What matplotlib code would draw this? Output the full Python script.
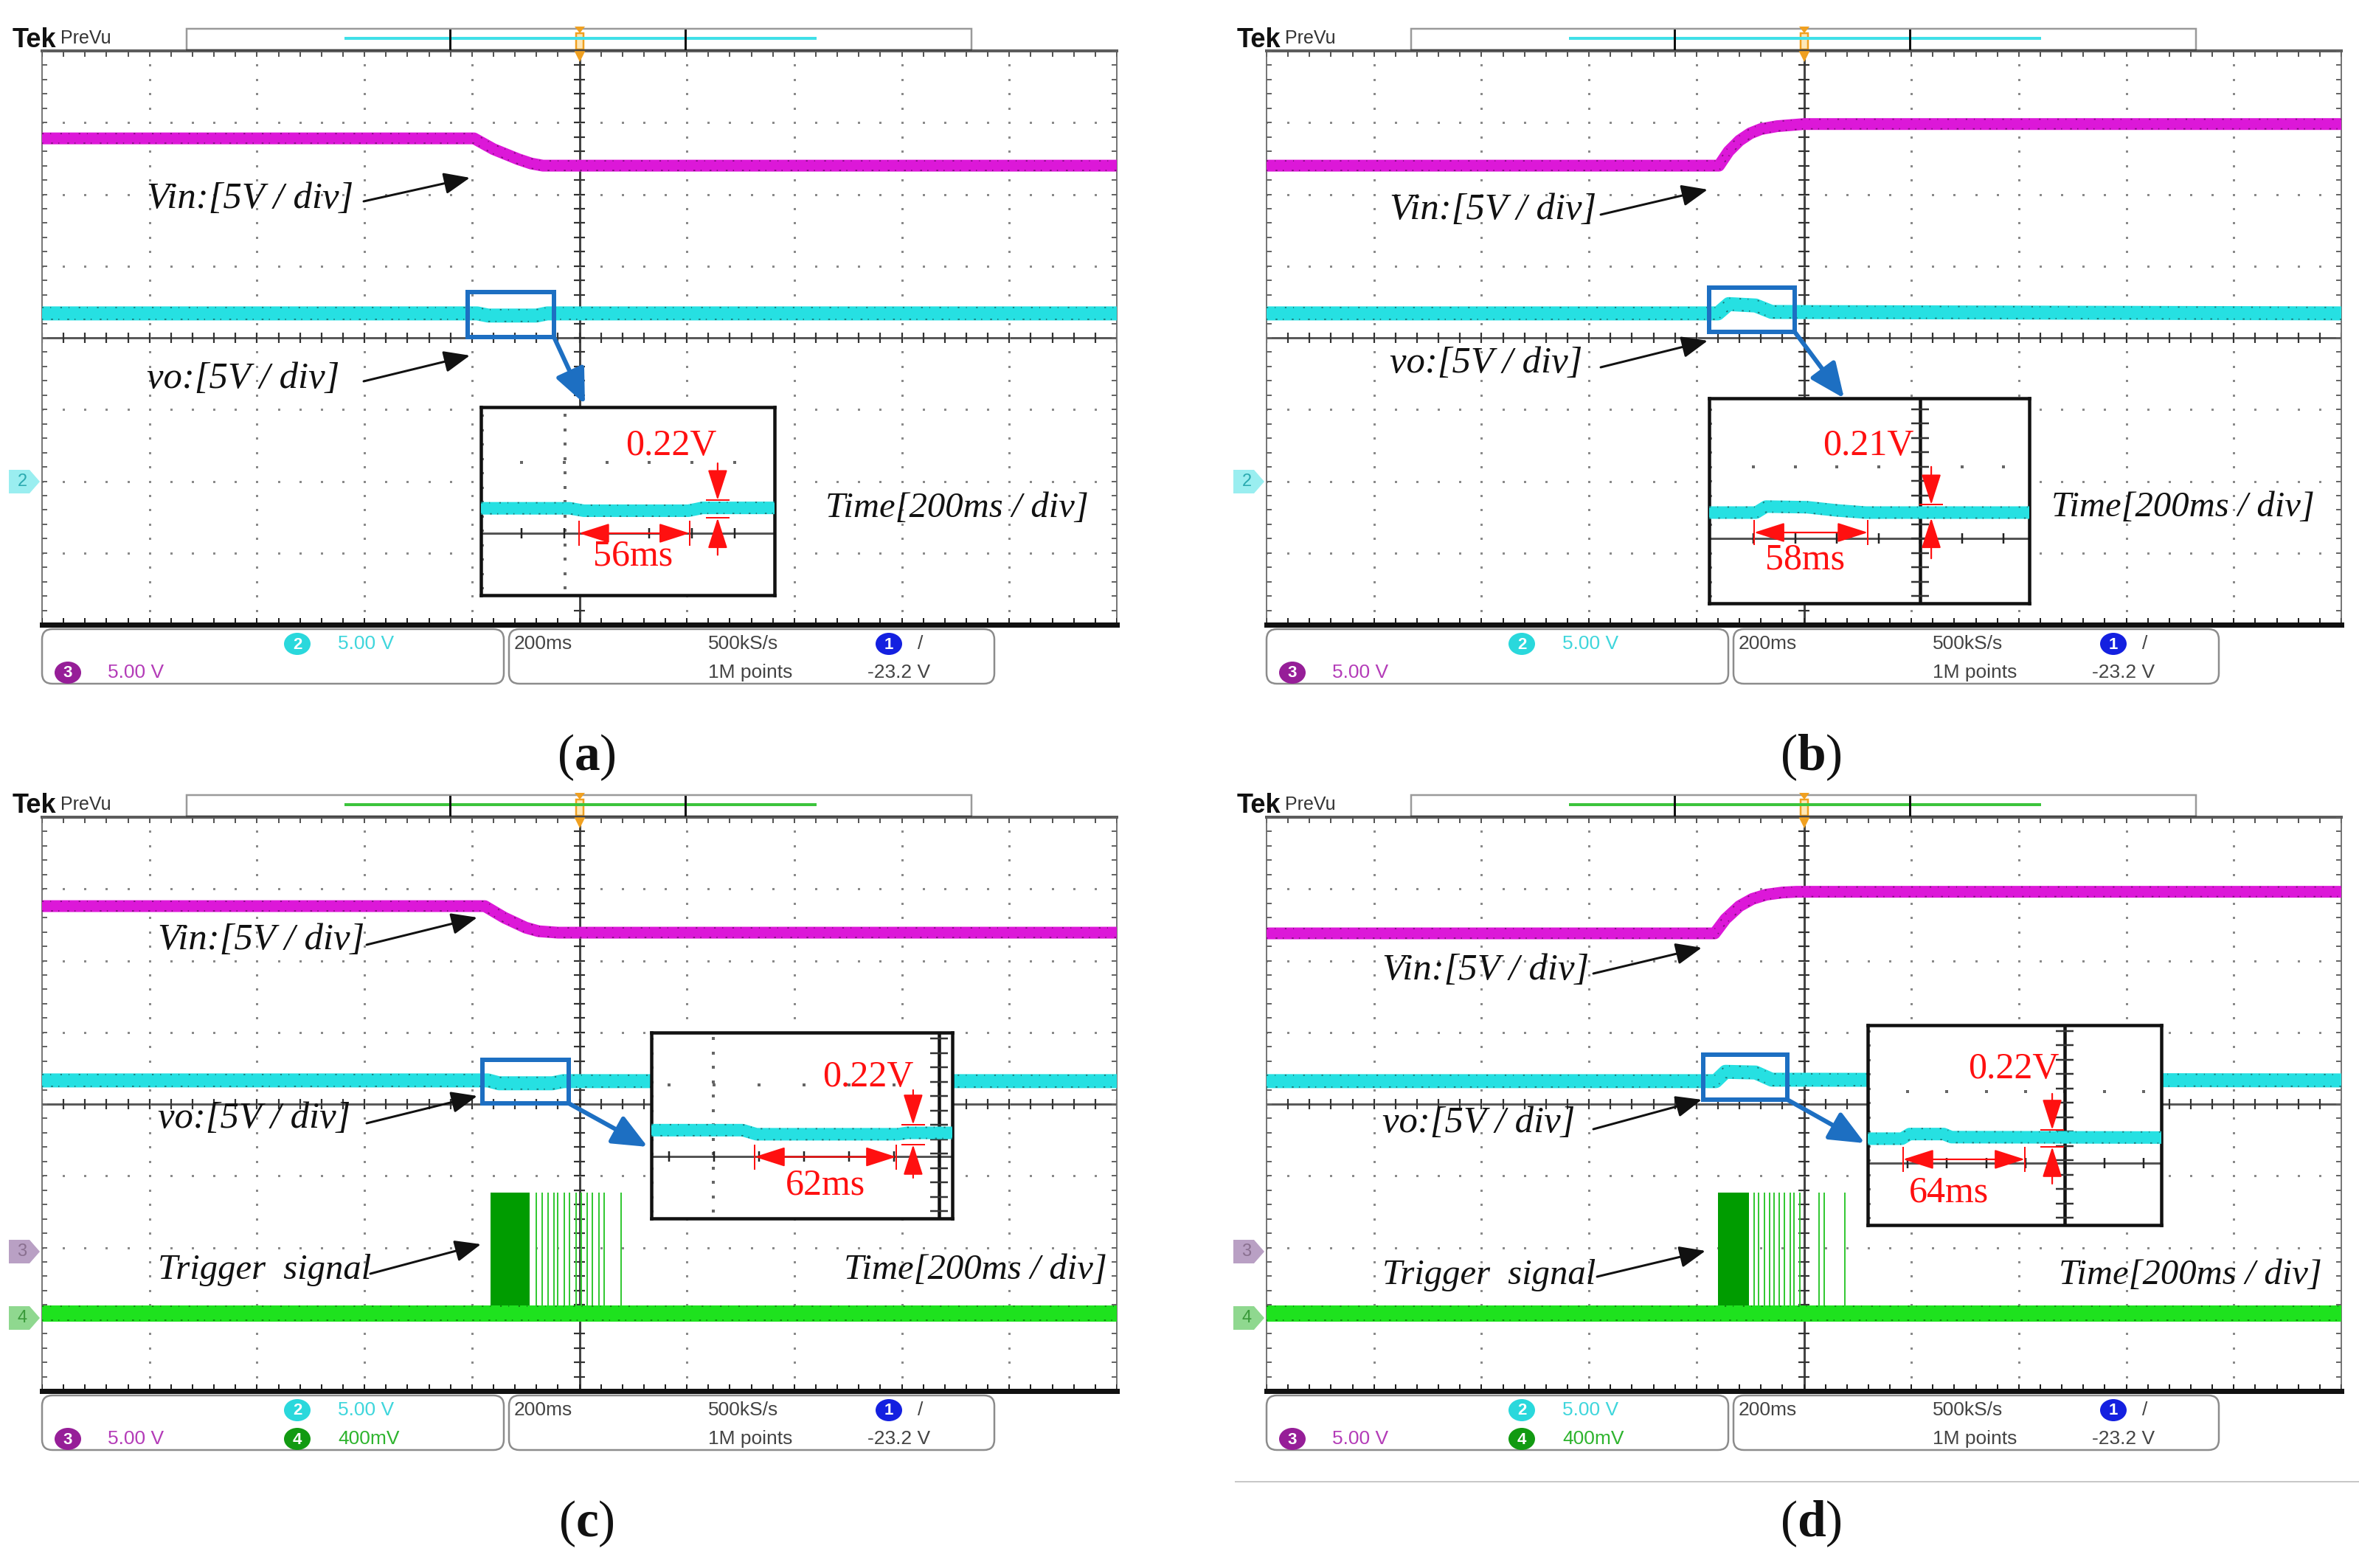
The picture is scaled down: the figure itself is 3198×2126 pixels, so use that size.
import numpy as np
import matplotlib
matplotlib.use("Agg")
import matplotlib.pyplot as plt
from matplotlib.patches import Rectangle, FancyBboxPatch, Polygon, Ellipse

W, H, DPI = 3198, 2126, 100
P = 72.0 / DPI  # points per pixel

plt.rcParams["mathtext.fontset"] = "custom"
plt.rcParams["mathtext.rm"] = "Liberation Serif"
plt.rcParams["mathtext.bf"] = "Liberation Serif:bold"

# ---------------- data (scope divisions: 10 x 8) ----------------
vin_t_a = [0, 4.02, 4.20, 4.43, 4.55, 4.66, 10]
vin_v_a = [6.78, 6.78, 6.63, 6.49, 6.43, 6.40, 6.40]
vo_t_a = [0, 4.05, 4.15, 4.60, 4.70, 10]
vo_v_a = [4.34, 4.34, 4.31, 4.31, 4.34, 4.34]

vin_t_b = [0, 4.21, 4.30, 4.40, 4.50, 4.60, 4.75, 5.00, 10]
vin_v_b = [6.40, 6.40, 6.60, 6.75, 6.85, 6.91, 6.95, 6.98, 6.98]
vo_t_b = [0, 4.20, 4.30, 4.55, 4.70, 10]
vo_v_b = [4.34, 4.34, 4.47, 4.45, 4.36, 4.34]

vin_t_c = [0, 4.12, 4.30, 4.50, 4.62, 4.80, 10]
vin_v_c = [6.76, 6.76, 6.60, 6.46, 6.41, 6.39, 6.39]
vo_t_c = [0, 4.15, 4.25, 4.75, 4.85, 10]
vo_v_c = [4.33, 4.33, 4.29, 4.29, 4.32, 4.32]

vin_t_d = [0, 4.17, 4.27, 4.40, 4.52, 4.65, 4.80, 4.93, 10]
vin_v_d = [6.38, 6.38, 6.58, 6.76, 6.86, 6.92, 6.95, 6.96, 6.96]
vo_t_d = [0, 4.18, 4.27, 4.55, 4.70, 10]
vo_v_d = [4.32, 4.32, 4.45, 4.44, 4.34, 4.33]

trig_level = [1.08, 2.77]
trig_dense_c = [4.17, 4.54]
trig_pulses_c = [4.60, 4.65, 4.71, 4.76, 4.80, 4.86, 4.91, 4.97, 5.02, 5.07,
                 5.12, 5.18, 5.23, 5.39]
trig_dense_d = [4.20, 4.49]
trig_pulses_d = [4.54, 4.58, 4.63, 4.68, 4.72, 4.77, 4.82, 4.87, 4.91, 4.96,
                 5.14, 5.19, 5.38]

# zoomed views: time (ms) and voltage (V) inside each inset
ins_t_a = [0, 45, 52, 105, 112, 149]
ins_v_a = [1.08, 1.08, 1.05, 1.05, 1.085, 1.085]
ins_t_b = [0, 24, 29, 50, 65, 80, 164]
ins_v_b = [1.435, 1.435, 1.53, 1.52, 1.47, 1.435, 1.435]
ins_t_c = [0, 40, 46, 108, 112, 132]
ins_v_c = [0.975, 0.975, 0.93, 0.93, 0.945, 0.945]
ins_t_d = [0, 18, 22, 40, 44, 155]
ins_v_d = [1.12, 1.12, 1.18, 1.18, 1.14, 1.135]

dip_ms = [56, 58, 62, 64]
dip_v = [0.22, 0.21, 0.22, 0.22]

captions = ["a", "b", "c", "d"]
ch_info = ["5.00 V", "5.00 V", "400mV"]
timebase = "200ms"
sample_rate = "500kS/s"
record_len = "1M points"
trig_volt = "-23.2 V"

# ---------------- style ----------------
MAG = "#dc18d8"
CYAN = "#26e0e2"
GREEN = "#1ee21e"
DGREEN = "#009c00"
BLUE = "#1d6fc2"
DX, DY = 145.7, 97.25  # px per division
SERIF = "Liberation Serif"
SANS = "Liberation Sans"

fig = plt.figure(figsize=(W / DPI, H / DPI), dpi=DPI)
fig.patch.set_facecolor("white")


def frect(x0, y0, x1, y1):
    return [x0 / W, 1 - y1 / H, (x1 - x0) / W, (y1 - y0) / H]


ov = fig.add_axes([0, 0, 1, 1], zorder=20)
ov.set_xlim(0, W)
ov.set_ylim(H, 0)
ov.axis("off")
ov.patch.set_alpha(0)


def band(ax, t, v, color, wpx, edge):
    ax.plot(t, v, color=color, lw=wpx * P, solid_capstyle="butt",
            solid_joinstyle="round", zorder=4)
    va = np.asarray(v, float)
    for s, d in ((1, (1.2, 5, 0.6, 7)), (-1, (0.8, 6, 1.4, 4))):
        ax.plot(t, va + s * (wpx / 2 - 1.5) / DY, color=edge, lw=1.8 * P,
                dashes=d, alpha=0.7, zorder=4)


def screen(ox, oy):
    ax = fig.add_axes(frect(ox + 57, oy + 69, ox + 1514, oy + 847), zorder=2)
    ax.set_xlim(0, 10)
    ax.set_ylim(0, 8)
    ax.axis("off")
    ys = np.linspace(0, 8, 41)
    xs = np.linspace(0, 10, 51)
    for i in [1, 2, 3, 4, 6, 7, 8, 9]:
        ax.plot(np.full(len(ys), i), ys, "s", ms=3 * P, mew=0, color="#8a8a8a")
    for j in [1, 2, 3, 5, 6, 7]:
        ax.plot(xs, np.full(len(xs), j), "s", ms=3 * P, mew=0, color="#8a8a8a")
    ax.plot([0, 10], [4, 4], color="#5a5a5a", lw=3 * P, zorder=1)
    ax.vlines(xs, 4 - 0.07, 4 + 0.07, color="#333", lw=2.2 * P)
    ax.plot([5, 5], [0, 8], color="#444", lw=3 * P, zorder=1)
    ax.hlines(ys, 5 - 0.05, 5 + 0.05, color="#333", lw=2.2 * P)
    ax.plot([0, 0], [0, 8], color="#777", lw=2 * P, clip_on=False)
    ax.plot([10, 10], [0, 8], color="#777", lw=2 * P, clip_on=False)
    ax.plot([0, 10], [8, 8], color="#5c5c5c", lw=4 * P, clip_on=False)
    ax.plot([0, 10], [0, 0], color="#111", lw=7 * P, clip_on=False, zorder=6)
    ax.vlines(xs, 8 - 0.08, 8, color="#555", lw=2 * P)
    ax.vlines(xs, 0, 0.09, color="#222", lw=2 * P)
    ax.hlines(ys, 0, 0.05, color="#666", lw=2 * P)
    ax.hlines(ys, 10 - 0.05, 10, color="#666", lw=2 * P)
    return ax


def header(ox, oy, col):
    ov.text(ox + 17, oy + 54, "Tek", fontsize=26, fontweight="bold",
            family=SANS, va="center", ha="left", color="#111")
    ov.text(ox + 82, oy + 52, "PreVu", fontsize=18, family=SANS,
            va="center", ha="left", color="#333")
    ov.add_patch(Rectangle((ox + 253, oy + 39), 1064, 29, fc="white",
                           ec="#9a9a9a", lw=2.5 * P))
    ov.plot([ox + 253, ox + 1317], [oy + 68, oy + 68], color="#444", lw=2.5 * P)
    ov.plot([ox + 469, ox + 1105], [oy + 52, oy + 52], color=col, lw=4 * P)
    for bx in (610, 929):
        ov.plot([ox + bx, ox + bx], [oy + 41, oy + 66], color="#111", lw=3 * P)
    tx = ox + 786
    ov.add_patch(Polygon([[tx - 7, oy + 36], [tx + 7, oy + 36], [tx, oy + 45]],
                         fc="#f0a020", ec="none"))
    ov.add_patch(Rectangle((tx - 5, oy + 45), 10, 22, fc="#fde7b8", ec="#f0a020",
                           lw=2.5 * P))
    ov.add_patch(Polygon([[tx - 8, oy + 68], [tx + 8, oy + 68], [tx, oy + 84]],
                         fc="#f0a020", ec="none"))


def chan_tag(ox, oy, y, label, fc, tc):
    ov.add_patch(Polygon([[ox + 12, oy + y - 16], [ox + 40, oy + y - 16],
                          [ox + 54, oy + y], [ox + 40, oy + y + 16],
                          [ox + 12, oy + y + 16]], fc=fc, ec="none"))
    ov.text(ox + 30, oy + y, label, fontsize=17, family=SANS, color=tc,
            ha="center", va="center")


def badge(x, y, num, fc):
    ov.add_patch(Ellipse((x, y), 36, 30, fc=fc, ec="none"))
    ov.text(x, y + 1, num, fontsize=16, fontweight="bold", family=SANS,
            color="white", ha="center", va="center")


def info_bar(ox, oy, four):
    for x0, x1 in ((57, 683), (690, 1348)):
        ov.add_patch(FancyBboxPatch((ox + x0, oy + 853), x1 - x0, 74,
                                    boxstyle="round,pad=0,rounding_size=14",
                                    fc="white", ec="#8c8c8c", lw=2.5 * P))
    fs = 19
    badge(ox + 403, oy + 873, "2", "#2ad8dc")
    ov.text(ox + 458, oy + 873, ch_info[1], fontsize=fs, family=SANS,
            color="#3fd6dc", va="center")
    badge(ox + 92, oy + 912, "3", "#961e98")
    ov.text(ox + 146, oy + 912, ch_info[0], fontsize=fs, family=SANS,
            color="#b43cb8", va="center")
    if four:
        badge(ox + 403, oy + 912, "4", "#129a12")
        ov.text(ox + 458, oy + 912, ch_info[2], fontsize=fs, family=SANS,
                color="#2eb42e", va="center")
    ov.text(ox + 697, oy + 873, timebase, fontsize=fs, family=SANS,
            color="#444", va="center")
    ov.text(ox + 960, oy + 873, sample_rate, fontsize=fs, family=SANS,
            color="#444", va="center")
    ov.text(ox + 960, oy + 912, record_len, fontsize=fs, family=SANS,
            color="#444", va="center")
    badge(ox + 1205, oy + 873, "1", "#1420e0")
    ov.text(ox + 1244, oy + 873, "/", fontsize=fs, family=SANS,
            color="#444", va="center")
    ov.text(ox + 1176, oy + 912, trig_volt, fontsize=fs, family=SANS,
            color="#444", va="center")


def label(ox, oy, pos, text, start, tip, fs=35):
    ov.text(ox + pos[0], oy + pos[1], text, fontsize=fs, family=SERIF,
            style="italic", va="center", ha="left", color="#111")
    if start is not None:
        ov.annotate("", xy=(ox + tip[0], oy + tip[1]),
                    xytext=(ox + start[0], oy + start[1]),
                    arrowprops=dict(arrowstyle="-|>,head_length=0.6,head_width=0.25",
                                    color="#111", lw=3 * P, mutation_scale=36,
                                    shrinkA=0, shrinkB=0))


def blue_mark(ox, oy, box, start, tip):
    x0, y0, x1, y1 = box
    ov.add_patch(Rectangle((ox + x0, oy + y0), x1 - x0, y1 - y0, fill=False,
                           ec=BLUE, lw=6 * P))
    ov.annotate("", xy=(ox + tip[0], oy + tip[1]),
                xytext=(ox + start[0], oy + start[1]),
                arrowprops=dict(arrowstyle="-|>,head_length=0.8,head_width=0.35",
                                color=BLUE, lw=6 * P, mutation_scale=36,
                                shrinkA=0, shrinkB=0))


def inset(ox, oy, box, pxms, pxv, t, v, dms, dv, gray, vline, ticks, dot_vx,
          dot_hy, t0, ay, vx, vtop, vfrom_top, vfrom_bot, vtxt, mtxt):
    x0, y0, x1, y1 = box
    iax = fig.add_axes(frect(ox + x0, oy + y0, ox + x1, oy + y1), zorder=8)
    tw = (x1 - x0) / pxms
    vh = (y1 - y0) / pxv
    iax.set_xlim(0, tw)
    iax.set_ylim(0, vh)
    iax.set_xticks([])
    iax.set_yticks([])
    iax.set_facecolor("white")
    for s in iax.spines.values():
        s.set_linewidth(4.5 * P)
        s.set_color("#111")
    tk = np.arange(ticks[0], tw, ticks[1])
    step_v = 19.5 / pxv
    iax.plot(tk, np.full(len(tk), dot_hy), "s", ms=3.5 * P, mew=0, color="#666")
    if dot_vx is not None:
        yy = np.arange(step_v / 2, vh, step_v)
        iax.plot(np.full(len(yy), dot_vx), yy, "s", ms=3.5 * P, mew=0, color="#666")
    yy = np.arange(step_v / 2, vh, step_v)
    iax.plot(np.full(len(yy), 1.5 / pxms), yy, "s", ms=3 * P, mew=0, color="#777")
    iax.axhline(gray, color="#555", lw=3 * P)
    iax.plot(tk, np.full(len(tk), gray), "|", ms=14 * P, mew=2.5 * P, color="#222")
    if vline is not None:
        iax.axvline(vline, color="#111", lw=4.5 * P)
        iax.plot(np.full(len(yy), vline), yy, "_", ms=24 * P, mew=2.5 * P,
                 color="#333")
    iax.plot(t, v, color=CYAN, lw=17 * P, solid_capstyle="butt", zorder=4)
    tv = np.asarray(v, float)
    for s, d in ((1, (1.2, 5, 0.6, 7)), (-1, (0.8, 6, 1.4, 4))):
        iax.plot(t, tv + s * 7.5 / pxv, color="#164848", lw=1.8 * P, dashes=d,
                 alpha=0.7, zorder=4)
    red = "#ff1010"
    aps = dict(color=red, lw=2.2 * P, mutation_scale=26, shrinkA=0, shrinkB=0)
    iax.annotate("", xy=(t0, ay), xytext=(t0 + dms, ay),
                 arrowprops=dict(arrowstyle="<|-|>,head_length=1.0,head_width=0.32",
                                 **aps), annotation_clip=False)
    for xx in (t0, t0 + dms):
        iax.plot([xx, xx], [ay - 16 / pxv, ay + 16 / pxv], color=red, lw=2 * P)
    iax.annotate("", xy=(vx, vtop), xytext=(vx, vfrom_top),
                 arrowprops=dict(arrowstyle="-|>,head_length=1.0,head_width=0.32",
                                 **aps), annotation_clip=False)
    iax.annotate("", xy=(vx, vtop - dv), xytext=(vx, vfrom_bot),
                 arrowprops=dict(arrowstyle="-|>,head_length=1.0,head_width=0.32",
                                 **aps), annotation_clip=False)
    for yv in (vtop, vtop - dv):
        iax.plot([vx - 15 / pxms, vx + 15 / pxms], [yv, yv], color=red, lw=2 * P)
    iax.text(vtxt[0], vtxt[1], "%.2fV" % dv, fontsize=36, family=SERIF,
             color=red, ha="center", va="center")
    iax.text(mtxt[0], mtxt[1], "%dms" % dms, fontsize=36, family=SERIF,
             color=red, ha="center", va="center")


# ---------------- panels ----------------
offsets = [(0, 0), (1660, 0), (0, 1039), (1660, 1039)]
vin_t = [vin_t_a, vin_t_b, vin_t_c, vin_t_d]
vin_v = [vin_v_a, vin_v_b, vin_v_c, vin_v_d]
vo_t = [vo_t_a, vo_t_b, vo_t_c, vo_t_d]
vo_v = [vo_v_a, vo_v_b, vo_v_c, vo_v_d]
ins_t = [ins_t_a, ins_t_b, ins_t_c, ins_t_d]
ins_v = [ins_v_a, ins_v_b, ins_v_c, ins_v_d]

vin_lab = [((199, 270), (493, 273), (637, 241)),
           ((224, 285), (510, 291), (655, 257)),
           ((214, 236), (497, 242), (647, 205)),
           ((214, 277), (500, 281), (647, 246))]
vo_lab = [((199, 514), (493, 517), (637, 482)),
          ((224, 493), (510, 498), (655, 462)),
          ((214, 478), (497, 484), (647, 447)),
          ((214, 484), (500, 492), (647, 452))]
trig_lab = [None, None,
            ((214, 683), (502, 688), (652, 648)),
            ((214, 690), (505, 692), (652, 657))]
time_lab = [(1119, 689), (1121, 688), (1144, 683), (1131, 690)]
blue_box = [((634, 396, 751, 457), (751, 457), (793, 548)),
            ((657, 390, 773, 450), (773, 450), (840, 540)),
            ((654, 398, 771, 457), (771, 457), (878, 516)),
            ((649, 391, 763, 452), (763, 452), (868, 511))]
ins_layout = [
    dict(box=(652, 552, 1050, 807), pxms=150 / 56, pxv=24 / 0.22, gray=0.77,
         vline=None, ticks=(20.5, 21.6), dot_vx=42.6, dot_hy=1.65, t0=49.6,
         ay=0.77, vx=119.8, vtop=1.18, vfrom_top=1.64, vfrom_bot=0.50,
         vtxt=(96.3, 1.85), mtxt=(76.9, 0.48)),
    dict(box=(657, 540, 1091, 818), pxms=154 / 58, pxv=18 / 0.21, gray=1.027,
         vline=107.7, ticks=(22.6, 21.3), dot_vx=None, dot_hy=2.16, t0=23.0,
         ay=1.12, vx=113.4, vtop=1.56, vfrom_top=2.16, vfrom_bot=0.71,
         vtxt=(81.4, 2.49), mtxt=(49.0, 0.68)),
    dict(box=(883, 361, 1291, 613), pxms=192 / 62, pxv=27 / 0.22, gray=0.685,
         vline=125.9, ticks=(7.7, 19.7), dot_vx=27.1, dot_hy=1.475, t0=45.2,
         ay=0.68, vx=114.6, vtop=1.035, vfrom_top=1.418, vfrom_bot=0.448,
         vtxt=(94.9, 1.557), mtxt=(76.2, 0.367)),
    dict(box=(872, 351, 1270, 622), pxms=165 / 64, pxv=23 / 0.22, gray=0.804,
         vline=103.6, ticks=(20.9, 20.7), dot_vx=None, dot_hy=1.73, t0=18.6,
         ay=0.852, vx=97.0, vtop=1.234, vfrom_top=1.703, vfrom_bot=0.536,
         vtxt=(76.8, 2.019), mtxt=(42.7, 0.421)),
]
trig_dense = [None, None, trig_dense_c, trig_dense_d]
trig_pulses = [None, None, trig_pulses_c, trig_pulses_d]

for k, (ox, oy) in enumerate(offsets):
    has_trig = trig_dense[k] is not None
    ax = screen(ox, oy)
    band(ax, vin_t[k], vin_v[k], MAG, 16, "#5a0a55")
    band(ax, vo_t[k], vo_v[k], CYAN, 19, "#164848")
    if has_trig:
        d0, d1 = trig_dense[k]
        ax.fill_between([d0, d1], trig_level[0], trig_level[1], color=DGREEN,
                        lw=0, zorder=3)
        ax.vlines(trig_pulses[k], trig_level[0], trig_level[1], color="#34c834",
                  lw=2 * P, zorder=3)
        band(ax, [0, 10], [trig_level[0]] * 2, GREEN, 22, "#0a5a0a")
    header(ox, oy, "#3cc43c" if has_trig else "#40e0e8")
    if has_trig:
        chan_tag(ox, oy, 658, "3", "#b9a0c4", "#8a7090")
        chan_tag(ox, oy, 748, "4", "#8fd88f", "#3a9a3a")
    else:
        chan_tag(ox, oy, 653, "2", "#9aeef0", "#2aaab0")
    info_bar(ox, oy, has_trig)
    lp, ls, lt = vin_lab[k]
    label(ox, oy, lp, "Vin:[5V / div]", ls, lt, fs=36.5)
    lp, ls, lt = vo_lab[k]
    label(ox, oy, lp, "vo:[5V / div]", ls, lt, fs=36.5)
    if trig_lab[k] is not None:
        lp, ls, lt = trig_lab[k]
        label(ox, oy, lp, "Trigger  signal", ls, lt)
    label(ox, oy, time_lab[k], "Time[200ms / div]", None, None)
    bb, bs, bt = blue_box[k]
    blue_mark(ox, oy, bb, bs, bt)
    lay = ins_layout[k]
    inset(ox, oy, lay["box"], lay["pxms"], lay["pxv"], ins_t[k], ins_v[k],
          dip_ms[k], dip_v[k], lay["gray"], lay["vline"], lay["ticks"],
          lay["dot_vx"], lay["dot_hy"], lay["t0"], lay["ay"], lay["vx"],
          lay["vtop"], lay["vfrom_top"], lay["vfrom_bot"], lay["vtxt"],
          lay["mtxt"])
    ov.text(ox + 795, oy + 1027, "($\\mathbf{%s}$)" % captions[k], fontsize=50,
            family=SERIF, ha="center", va="center", color="#111")

ov.plot([1675, 3198], [2009, 2009], color="#c8c8c8", lw=2 * P)

fig.savefig("out.png", dpi=DPI, facecolor="white")
